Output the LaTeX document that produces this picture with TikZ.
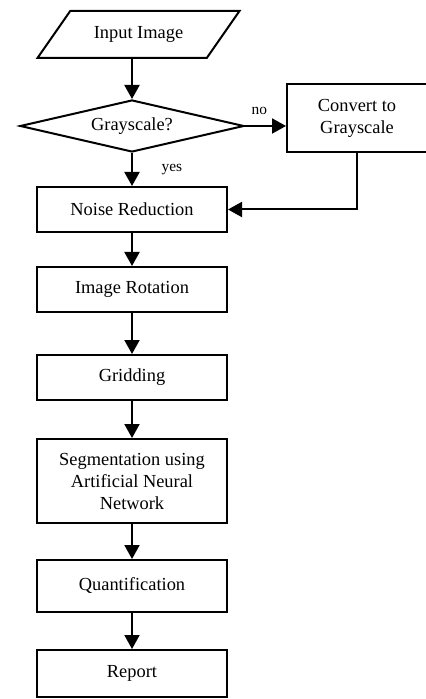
\documentclass[tikz,border=0pt]{standalone}
\usepackage{fontspec}
\setmainfont{Liberation Serif}
\usetikzlibrary{shapes.geometric,arrows.meta,positioning}
\tikzset{
  etapa/.style={rectangle, draw, line width=1pt, minimum width=95pt,
                minimum height=22.5pt, align=center, inner sep=2pt,
                font=\fontsize{9.2}{11}\selectfont},
  decisao/.style={diamond, draw, line width=1pt, aspect=4.3, minimum width=112pt,
                  minimum height=26pt, inner sep=1pt, font=\fontsize{9.2}{11}\selectfont},
  entrada/.style={trapezium, trapezium left angle=50, trapezium right angle=130,
                  trapezium stretches=true, draw, line width=1pt, minimum width=101.5pt,
                  minimum height=23.5pt, font=\fontsize{9.2}{11}\selectfont},
  seta/.style={-{Triangle[length=7pt,width=7.5pt]}, line width=1pt},
  rotulo/.style={font=\fontsize{7.7}{9}\selectfont},
}
\begin{document}
\begin{tikzpicture}
  \useasboundingbox (0,0) rectangle (213pt,-349.5pt);
  \node[etapa] (ruido) at (66pt,-104.75pt) {Noise Reduction};
  \node[decisao, above=16.5pt of ruido] (cinza) {Grayscale?};
  \node[entrada, above=20pt of cinza, xshift=3.25pt] (imagem) {Input Image};
  \node[etapa, minimum width=70pt, minimum height=34pt, right=20.5pt of cinza,
        yshift=4pt] (converte) {Convert to\\Grayscale};
  \node[etapa, below=16.5pt of ruido] (rotacao) {Image Rotation};
  \node[etapa, below=20.5pt of rotacao] (grade) {Gridding};
  \node[etapa, minimum height=42pt, below=18.5pt of grade] (segm)
       {Segmentation using\\Artificial Neural\\Network};
  \node[etapa, minimum height=26pt, below=17.5pt of segm] (quant) {Quantification};
  \node[etapa, minimum height=23.5pt, below=18pt of quant] (relat) {Report};
  \draw[seta] (imagem.south -| cinza.north) -- (cinza.north);
  \draw[seta] (cinza.east) -- node[rotulo, above=2pt, pos=0.35] {no} (cinza.east -| converte.west);
  \draw[seta] (cinza.south) -- node[rotulo, right=11pt] {yes} (ruido.north);
  \draw[seta] (converte.south) |- (ruido.east);
  \draw[seta] (ruido) -- (rotacao); \draw[seta] (rotacao) -- (grade);
  \draw[seta] (grade) -- (segm); \draw[seta] (segm) -- (quant);
  \draw[seta] (quant) -- (relat);
\end{tikzpicture}
\end{document}
